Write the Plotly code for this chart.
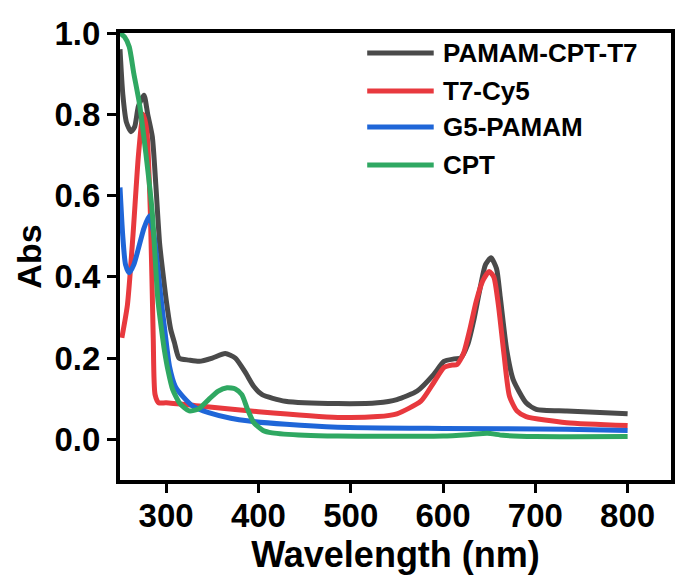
import plotly.graph_objects as go

# ---- data ----
gray_x = [250, 253, 257, 262, 266, 270, 276, 280, 285, 289, 293, 297, 300, 305, 309, 314, 325, 336, 350, 364, 375, 386, 395, 404, 429, 486, 529, 550, 572, 590, 601, 612, 619, 627, 633, 640, 646, 652, 658, 662, 669, 676, 690, 701, 734, 770, 800]
gray_y = [0.96, 0.85, 0.78, 0.757, 0.77, 0.82, 0.847, 0.80, 0.745, 0.62, 0.48, 0.40, 0.344, 0.27, 0.238, 0.20, 0.195, 0.192, 0.20, 0.211, 0.20, 0.164, 0.13, 0.11, 0.094, 0.088, 0.090, 0.098, 0.119, 0.16, 0.192, 0.198, 0.20, 0.235, 0.29, 0.37, 0.43, 0.447, 0.42, 0.35, 0.22, 0.147, 0.09, 0.074, 0.07, 0.066, 0.063]

red_x = [252, 258, 264, 270, 275, 279, 283, 286, 288, 292, 300, 336, 400, 486, 529, 550, 576, 590, 601, 610, 615, 622, 629, 636, 643, 650, 655, 660, 666, 672, 680, 690, 734, 800]
red_y = [0.25, 0.33, 0.50, 0.70, 0.80, 0.76, 0.55, 0.25, 0.11, 0.09, 0.09, 0.082, 0.068, 0.054, 0.056, 0.063, 0.094, 0.14, 0.177, 0.183, 0.184, 0.21, 0.27, 0.34, 0.39, 0.413, 0.40, 0.33, 0.21, 0.106, 0.07, 0.056, 0.041, 0.034]

blue_x = [250, 253, 256, 260, 265, 270, 276, 282, 287, 291, 294.6, 299, 303.6, 310, 318, 330, 346, 370, 390, 430, 486, 600, 734, 800]
blue_y = [0.62, 0.50, 0.43, 0.41, 0.43, 0.47, 0.52, 0.55, 0.50, 0.42, 0.344, 0.26, 0.18, 0.13, 0.106, 0.08, 0.066, 0.052, 0.045, 0.037, 0.030, 0.027, 0.025, 0.022]

green_x = [250, 255, 260, 265, 271, 278, 285, 288, 291, 295, 298, 302, 307, 315, 325, 335, 346, 356, 366, 375, 382, 388, 395, 405, 415, 450, 486, 600, 630, 648, 665, 700, 800]
green_y = [1.0, 0.99, 0.966, 0.90, 0.827, 0.704, 0.557, 0.45, 0.344, 0.27, 0.221, 0.17, 0.123, 0.088, 0.07, 0.075, 0.098, 0.118, 0.127, 0.124, 0.11, 0.075, 0.041, 0.022, 0.016, 0.01, 0.008, 0.008, 0.012, 0.015, 0.01, 0.007, 0.007]

names = ["PAMAM-CPT-T7", "T7-Cy5", "G5-PAMAM", "CPT"]
colors = ["#4a4a4a", "#e8393e", "#1f66d8", "#2fa862"]
series = [(gray_x, gray_y), (red_x, red_y), (blue_x, blue_y), (green_x, green_y)]

x_ticks = [300, 400, 500, 600, 700, 800]
y_ticks = [0.0, 0.2, 0.4, 0.6, 0.8, 1.0]

FONT = "Liberation Sans"

fig = go.Figure()
for (xs, ys), name, col in zip(series, names, colors):
    fig.add_trace(go.Scatter(x=xs, y=ys, mode="lines", name=name,
                             line=dict(color=col, width=5, shape="spline", smoothing=0.6),
                             showlegend=False))

# manual legend (paper coordinates)
W, H = 680, 576
L, R, T, B = 120, 5, 33, 96
pw, ph = W - L - R, H - T - B
def px(xp):
    return (xp - L) / pw
def py(yp):
    return (H - B - yp) / ph

rows = [53, 91, 127, 165]
for name, col, yr in zip(names, colors, rows):
    fig.add_shape(type="line", xref="paper", yref="paper",
                  x0=px(369), x1=px(436), y0=py(yr), y1=py(yr),
                  line=dict(color=col, width=5))
    fig.add_annotation(xref="paper", yref="paper", x=px(443), y=py(yr),
                       text=name, showarrow=False, xanchor="left", yanchor="middle",
                       font=dict(family=FONT, size=26, color="black", weight="bold"))

axis_common = dict(showline=True, linewidth=4, linecolor="black", mirror=True,
                   ticks="outside", ticklen=9, tickwidth=3, tickcolor="black",
                   showgrid=False, zeroline=False,
                   tickfont=dict(family=FONT, size=33, color="black", weight="bold"))

fig.update_layout(
    width=W, height=H,
    margin=dict(l=L, r=R, t=T, b=B),
    plot_bgcolor="white", paper_bgcolor="white",
    xaxis=dict(range=[250, 847], tickvals=x_ticks, ticklabelstandoff=-6,
               title=dict(text="Wavelength (nm)", standoff=3,
                          font=dict(family=FONT, size=36, color="black", weight="bold")),
               **axis_common),
    yaxis=dict(range=[-0.1, 1.0], tickvals=y_ticks, tickformat=".1f",
               title=dict(text="Abs", standoff=4,
                          font=dict(family=FONT, size=34, color="black", weight="bold")),
               **axis_common),
)

fig.write_html("out.html", config={"displayModeBar": False},
               post_script="document.body.style.margin='0';document.body.style.padding='0';")
